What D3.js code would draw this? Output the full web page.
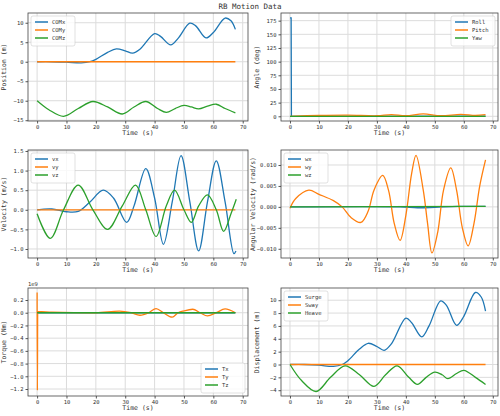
<!DOCTYPE html>
<html><head><meta charset="utf-8">
<script src="https://cdn.jsdelivr.net/npm/d3@7"></script>
<style>body{margin:0;background:#fff}svg{display:block}text{font-family:"DejaVu Sans Mono",monospace;fill:#333}</style>
</head><body><svg id="c" width="500" height="416"></svg>
<script>
const C=["#1f77b4","#ff7f0e","#2ca02c"];
const comX=[[0,0],[5,0],[10,-0.1],[15,-0.3],[18,0],[20,0.6],[24,2.4],[27,3.3],[30,2.8],[32.5,2.2],[35,3.2],[40,7.2],[42,6.5],[45.5,4.3],[48,6],[52,9.9],[54,9.2],[57.5,6.1],[60,7.5],[64,11.2],[66,10.5],[67.5,8.3]];
const comY=[[0,0],[67.5,0]];
const comZ=[[0,-10],[4,-12.3],[9,-14],[14,-12],[19,-10.2],[24,-11.6],[29,-13.4],[33,-11.6],[37,-10.2],[41,-12],[44,-13],[47,-12],[50,-11.2],[52.5,-11.6],[55,-12.1],[58,-11.4],[61,-10.9],[64,-12],[67.5,-13.1]];
const roll=[[0,180],[0.4,180],[0.5,0],[67.5,0.2]];
const pitch=[[0,0],[10,1.5],[20,2],[30,1],[35,3],[40,1],[46,4.5],[52,1],[59,3.5],[64,1.5],[67.5,3]];
const yaw=[[0,0],[67.5,0]];
const vx=[[0,0],[5,0.02],[10,-0.05],[14,-0.04],[18,0.2],[22.5,0.5],[26,0.3],[30.5,-0.32],[33,0.1],[37,1.05],[40,0.3],[43,-0.88],[46,0.2],[49,1.38],[52,0.2],[55,-1.05],[58,0.2],[61,1.25],[64,0.2],[67,-1.12],[67.7,-1.05]];
const vy=[[0,0],[67.5,0]];
const vz=[[0,-0.1],[4.5,-0.73],[9,0],[14,0.63],[19,0],[24,-0.5],[29,0.1],[33.5,0.63],[37,0],[40.5,-0.68],[44,0.1],[46.8,0.5],[50,0],[52.5,-0.32],[55,0.1],[58,0.38],[61,0],[63.5,-0.55],[66,-0.1],[67.8,0.27]];
const wx=[[0,0],[38,0],[44,-0.0002],[50,-0.0001],[58,0.0001],[67.5,0.0001]];
const wy=[[0,-0.0003],[2,0.002],[6.5,0.004],[10,0.003],[15,0.0015],[18,0],[21,-0.0025],[24.5,-0.0037],[27,-0.001],[29,0.004],[32,0.0075],[34,0.004],[36,-0.004],[38,-0.008],[40,-0.002],[42,0.008],[43.5,0.0123],[46,0.004],[47.5,-0.004],[49,-0.011],[51,-0.006],[53,0.004],[55.5,0.0093],[57.5,0.004],[59.5,-0.005],[61.5,-0.0093],[63.5,-0.004],[65.5,0.005],[67.5,0.0112]];
const wz=[[0,0],[67.5,0.0001]];
const tx=[[0,0],[67.5,0]];
const ty=[[0,0.32],[0.1,-1.22],[0.2,0.02],[5,0.01],[20,0],[28,0.025],[32,0],[35,-0.04],[38,0],[40.5,0.065],[43,0],[46,-0.07],[48,0],[50,0.03],[53,0.055],[55.5,0],[58,-0.05],[61,0],[64,0.06],[67.5,0]];
const tz=[[0,0],[67.5,0]];
const surge=comX;
const sway=[[0,0],[67.5,0]];
const heave=[[0,0],[4,-2.5],[9,-4.2],[14,-2],[19,-0.2],[24,-1.6],[29,-3.4],[33,-1.6],[37,-0.2],[41,-2],[44,-3.1],[47,-2],[50,-1.2],[52.5,-1.6],[54.5,-2.2],[57.5,-1.4],[60,-0.9],[64,-2],[67.5,-3.1]];
const xTicks=[0,10,20,30,40,50,60,70];

const smooth=d3.curveCatmullRom.alpha(0.5);
const panels=[
 {x0:28,x1:248,y0:13,y1:121,yd:[-15.2,12.5],yt:[-15,-10,-5,0,5,10],fmt:d=>d,yl:"Position (m)",s:[comX,comY,comZ],n:["COMx","COMy","COMz"],leg:"ul",curve:smooth},
 {x0:281,x1:498,y0:13,y1:121,yd:[-8.6,189],yt:[0,25,50,75,100,125,150,175],fmt:d=>d,yl:"Angle (deg)",s:[roll,pitch,yaw],n:["Roll","Pitch","Yaw"],leg:"ur",curves:[d3.curveLinear,smooth,d3.curveLinear]},
 {x0:28,x1:248,y0:150,y1:258,yd:[-1.23,1.525],yt:[-1,-0.5,0,0.5,1,1.5],fmt:d3.format(".1f"),yl:"Velocity (m/s)",s:[vx,vy,vz],n:["vx","vy","vz"],leg:"ul",curve:smooth},
 {x0:281,x1:498,y0:150,y1:258,yd:[-0.0122,0.01358],yt:[-0.01,-0.005,0,0.005,0.01],fmt:d3.format(".3f"),yl:"Angular Velocity (rad/s)",s:[wx,wy,wz],n:["wx","wy","wz"],leg:"ul",curve:smooth},
 {x0:28,x1:248,y0:288,y1:396,yd:[-1.31,0.389],yt:[-1.2,-1,-0.8,-0.6,-0.4,-0.2,0,0.2],fmt:d3.format(".1f"),yl:"Torque (Nm)",s:[tx,ty,tz],n:["Tx","Ty","Tz"],leg:"lr",curves:[d3.curveLinear,d3.curveMonotoneX,d3.curveLinear],exp:"1e9"},
 {x0:281,x1:498,y0:288,y1:396,yd:[-4.9,11.9],yt:[-4,-2,0,2,4,6,8,10],fmt:d=>d,yl:"Displacement (m)",s:[surge,sway,heave],n:["Surge","Sway","Heave"],leg:"ul",curve:smooth}
];
const svg=d3.select("#c");
svg.append("text").attr("x",250).attr("y",9).attr("text-anchor","middle").attr("font-size",7.5).text("RB Motion Data");
panels.forEach(p=>{
 const x=d3.scaleLinear().domain([-3.1,71.8]).range([p.x0,p.x1]);
 const y=d3.scaleLinear().domain(p.yd).range([p.y1,p.y0]);
 const g=svg.append("g");
 g.selectAll(".gx").data(xTicks).join("line").attr("x1",d=>x(d)).attr("x2",d=>x(d)).attr("y1",p.y0).attr("y2",p.y1).attr("stroke","#dcdcdc").attr("stroke-width",1);
 g.selectAll(".gy").data(p.yt).join("line").attr("y1",d=>y(d)).attr("y2",d=>y(d)).attr("x1",p.x0).attr("x2",p.x1).attr("stroke","#dcdcdc").attr("stroke-width",1);
 const ax=g.append("g").attr("transform",`translate(0,${p.y1})`).call(d3.axisBottom(x).tickValues(xTicks).tickSize(2.5).tickPadding(2));
 const ay=g.append("g").attr("transform",`translate(${p.x0},0)`).call(d3.axisLeft(y).tickValues(p.yt).tickFormat(d=>String(p.fmt(d)).replace("-","\u2212")).tickSize(2.5).tickPadding(2));
 [ax,ay].forEach(a=>{a.select(".domain").remove();a.selectAll("text").attr("font-size",5.5).attr("fill","#555").attr("font-family","DejaVu Sans Mono");a.selectAll("line").attr("stroke","#555");});
 g.append("rect").attr("x",p.x0).attr("y",p.y0).attr("width",p.x1-p.x0).attr("height",p.y1-p.y0).attr("fill","none").attr("stroke","#444").attr("stroke-width",0.8);
 g.append("text").attr("x",(p.x0+p.x1)/2).attr("y",p.y1+14).attr("text-anchor","middle").attr("font-size",6.5).attr("fill","#555").text("Time (s)");
 const lx=p.x0-(p.yl.length>20?26:22);
 g.append("text").attr("transform",`translate(${lx},${(p.y0+p.y1)/2}) rotate(-90)`).attr("text-anchor","middle").attr("font-size",6.5).attr("fill","#555").text(p.yl);
 if(p.exp) g.append("text").attr("x",p.x0).attr("y",p.y0-2).attr("font-size",5.5).attr("fill","#555").text(p.exp);
 p.s.forEach((s,i)=>{
  const cv=p.curves?p.curves[i]:p.curve;
  g.append("path").datum(s).attr("fill","none").attr("stroke",C[i]).attr("stroke-width",1.3)
   .attr("d",d3.line().x(d=>x(d[0])).y(d=>y(d[1])).curve(cv));
 });
 const lw=44,lh=30;
 let lx0=p.leg==="ul"?p.x0+3:p.x1-lw-3, ly0=p.leg==="lr"?p.y1-lh-3:p.y0+3;
 const lg=g.append("g").attr("transform",`translate(${lx0},${ly0})`);
 lg.append("rect").attr("width",lw).attr("height",lh).attr("rx",2).attr("fill","#fff").attr("fill-opacity",0.8).attr("stroke","#ccc").attr("stroke-width",0.6);
 p.n.forEach((n,i)=>{
  lg.append("line").attr("x1",4).attr("x2",17).attr("y1",6+i*8).attr("y2",6+i*8).attr("stroke",C[i]).attr("stroke-width",1.5);
  lg.append("text").attr("x",21).attr("y",8+i*8).attr("font-size",5.5).attr("fill","#444").text(n);
 });
});
</script></body></html>
